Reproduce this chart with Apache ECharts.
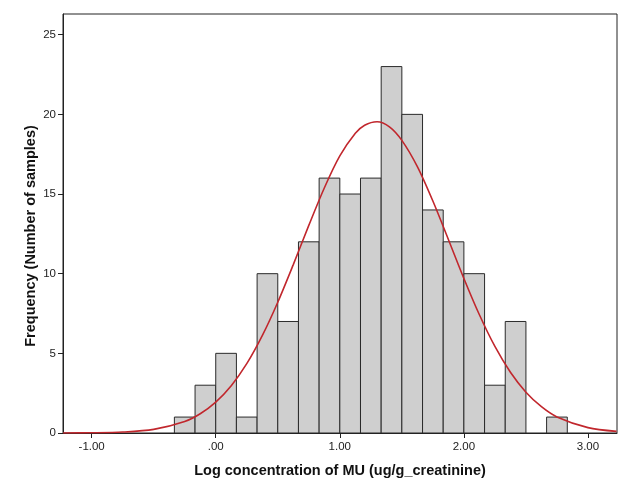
<!DOCTYPE html>
<html><head><meta charset="utf-8">
<script src="https://cdn.jsdelivr.net/npm/echarts@6/dist/echarts.min.js"></script>
<style>html,body{margin:0;padding:0;background:#fff}#c{width:633px;height:499px}</style>
</head><body><div id="c"></div>
<script>
// Histogram bins (width 1/6) and counts
var binStarts = [-2/6,-1/6,0,1/6,2/6,3/6,4/6,5/6,1,7/6,8/6,9/6,10/6,11/6,2,13/6,14/6,15/6,16/6];
var binWidth = 1/6;
var counts = [1,3,5,1,10,7,12,16,15,16,23,20,14,12,10,3,7,0,1];
// Fitted normal curve
var curveX = [-1.23,-1.0,-0.75,-0.5,-0.25,-0.125,0,0.125,0.25,0.375,0.5,0.625,0.75,0.875,1.0,1.125,1.2,1.3,1.4,1.5,1.625,1.75,1.875,2.0,2.125,2.25,2.375,2.5,2.625,2.75,3.0,3.23];
var curveY = [0.003,0.013,0.060,0.228,0.725,1.21,1.94,2.97,4.35,6.11,8.21,10.57,13.03,15.38,17.39,18.81,19.32,19.54,19.22,18.37,16.72,14.56,12.15,9.70,7.42,5.43,3.81,2.56,1.65,1.01,0.337,0.10];
var xTicks = [-1,0,1,2,3];
var xTickLabels = ['-1.00','.00','1.00','2.00','3.00'];
var yTicks = [0,5,10,15,20,25];
var yTickLabels = ['0','5','10','15','20','25'];

var histData = binStarts.map(function(s,i){return [s, s+binWidth, counts[i]];});
var curveData = curveX.map(function(x,i){return [x, curveY[i]];});

var chart = echarts.init(document.getElementById('c'), null, {renderer:'canvas'});
chart.setOption({
  animation:false,
  backgroundColor:'#fff',
  grid:{left:63,right:16,top:14,bottom:66,show:true,borderColor:'#222',borderWidth:1,backgroundColor:'transparent'},
  xAxis:{type:'value',min:-1.231,max:3.234,
    splitLine:{show:false},
    axisLine:{lineStyle:{color:'#222',width:1},onZero:false},
    axisTick:{show:true,length:5,lineStyle:{color:'#222'},customValues:xTicks},
    axisLabel:{customValues:xTicks,color:'#222',fontFamily:'Liberation Sans, Arial',fontSize:11.5,margin:8,
      formatter:function(v){var i=xTicks.indexOf(Math.round(v));return i>=0?xTickLabels[i]:'';}}
  },
  yAxis:{type:'value',min:0,max:26.3,
    splitLine:{show:false},
    axisLine:{show:true,onZero:false,lineStyle:{color:'#222',width:1}},
    axisTick:{show:true,length:5,lineStyle:{color:'#222'},customValues:yTicks},
    axisLabel:{customValues:yTicks,color:'#222',fontFamily:'Liberation Sans, Arial',fontSize:11.5,margin:7,
      formatter:function(v){var i=yTicks.indexOf(Math.round(v));return i>=0?yTickLabels[i]:'';}}
  },
  graphic:[
    {type:'text',style:{text:'Log concentration of MU (ug/g_creatinine)',x:340,y:471,align:'center',verticalAlign:'middle',font:'bold 14.5px "Liberation Sans", Arial',fill:'#111'}},
    {type:'text',x:31,y:236,rotation:Math.PI/2,style:{text:'Frequency (Number of samples)',x:0,y:0,align:'center',verticalAlign:'middle',font:'bold 14.5px "Liberation Sans", Arial',fill:'#111'}}
  ],
  series:[
    {type:'custom',data:histData,clip:true,
      renderItem:function(params,api){
        if(api.value(2)<=0) return null;
        var p0=api.coord([api.value(0),api.value(2)]);
        var p1=api.coord([api.value(1),0]);
        return {type:'rect',shape:{x:p0[0],y:p0[1],width:p1[0]-p0[0],height:p1[1]-p0[1]},
          style:{fill:'#cfcfcf',stroke:'#2a2a2a',lineWidth:1}};
      },
      encode:{x:[0,1],y:2},z:2},
    {type:'line',data:curveData,smooth:0.3,showSymbol:false,symbol:'none',clip:true,
      lineStyle:{color:'#c1272d',width:1.6},z:3}
  ]
});
</script></body></html>
